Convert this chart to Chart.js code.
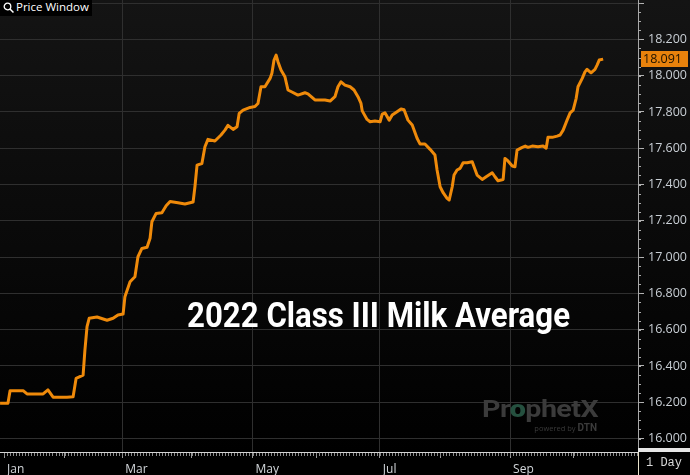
<!DOCTYPE html>
<html>
<head>
<meta charset="utf-8">
<script src="https://cdn.jsdelivr.net/npm/chart.js@4.4.1/dist/chart.umd.min.js"></script>
<style>
    html, body { margin: 0; padding: 0; background: #000; }
    #quadro { position: relative; width: 690px; height: 475px; overflow: hidden; }
    #grafico { display: block; }
    #janela {
        position: absolute; left: 0; top: 0; width: 92px; height: 16px;
        background: #000; color: #fff;
        font: 11.5px "Open Sans", sans-serif; line-height: 16px;
    }
    #janela svg { position: absolute; left: 3px; top: 2px; }
    #janela span { position: absolute; left: 16px; top: -1px; }
    #titulo {
        position: absolute; left: 187px; top: 298px;
        color: #fff; font: 700 35px Roboto, sans-serif; line-height: 35px;
        white-space: nowrap; transform-origin: left top;
    }
    #marca {
        position: absolute; left: 482px; top: 397px;
        color: #3b3b3b; font: 700 24px Roboto, sans-serif; line-height: 24px;
        white-space: nowrap; transform-origin: left top; letter-spacing: -0.5px;
    }
    #marca b { color: #25503f; }
    #powered {
        position: absolute; right: 93px; top: 422px;
        color: #3b3b3b; font: 7.5px "Open Sans", sans-serif; white-space: nowrap;
    }
    #powered b { font: 700 10px Roboto, sans-serif; }
    #periodo {
        position: absolute; left: 646px; top: 456px;
        color: #d8d8d8; font: 12px "Liberation Mono", monospace; white-space: nowrap;
    }
</style>
</head>
<body>
<div id="quadro">
    <canvas id="grafico" width="690" height="475"></canvas>
    <div id="janela">
        <svg width="12" height="12" viewBox="0 0 12 12">
            <circle cx="4.5" cy="4.5" r="3.3" fill="none" stroke="#fff" stroke-width="1.3"/>
            <line x1="7" y1="7" x2="10.5" y2="10.5" stroke="#fff" stroke-width="1.5"/>
        </svg>
        <span>Price Window</span>
    </div>
    <div id="titulo">2022 Class III Milk Average</div>
    <div id="marca">Pr<b>o</b>phetX</div>
    <div id="powered">powered by <b>DTN</b></div>
    <div id="periodo">1 Day</div>
</div>

<script>
// =============================
// DADOS
// =============================

// pregões contados a partir de 3 de janeiro de 2022
const dias = [
    -1.3, 1.3, 2.0, 6.3, 7.6, 12.9, 14.5, 16.2, 20.8, 22.8,
    23.8, 26.1, 26.7, 27.4, 28.1, 30.7, 34.0, 36.0, 37.6, 39.3,
    39.9, 41.6, 43.2, 44.2, 45.5, 47.2, 48.2, 48.8, 50.2, 52.1,
    53.5, 54.8, 57.4, 59.7, 62.4, 63.0, 63.7, 65.3, 66.3, 67.3,
    69.6, 71.6, 72.9, 73.9, 75.6, 76.9, 77.6, 78.9, 81.2, 82.8,
    83.8, 84.8, 86.1, 87.8, 88.4, 89.1, 89.8, 90.4, 91.4, 92.7,
    93.7, 95.0, 97.0, 99.3, 100.3, 102.6, 105.9, 107.6, 109.2, 110.2,
    111.2, 112.5, 114.2, 115.5, 116.8, 117.8, 118.2, 119.8, 120.8, 122.4,
    124.1, 124.8, 125.7, 127.1, 128.1, 129.7, 131.0, 132.0, 133.3, 134.7,
    136.3, 137.3, 138.9, 140.6, 142.2, 142.9, 143.9, 144.9, 146.2, 146.9,
    147.9, 148.5, 149.5, 150.5, 151.5, 152.8, 154.5, 155.1, 156.1, 157.8,
    159.1, 161.1, 162.0, 163.0, 164.7, 165.3, 166.3, 167.7, 168.6, 169.3,
    171.0, 172.0, 172.9, 174.3, 176.2, 177.9, 178.9, 179.5, 180.9, 182.5,
    183.5, 184.5, 185.8, 186.8, 187.8, 188.8, 189.4, 190.8, 191.7, 192.4,
    193.7, 195.0, 195.7, 196.4, 197.7
];

const precos = [
    16.195, 16.195, 16.264, 16.264, 16.246, 16.246, 16.268, 16.228, 16.228, 16.230,
    16.332, 16.350, 16.488, 16.617, 16.663, 16.670, 16.652, 16.663, 16.681, 16.686,
    16.782, 16.864, 16.892, 17.002, 17.048, 17.054, 17.104, 17.195, 17.241, 17.245,
    17.283, 17.307, 17.300, 17.293, 17.304, 17.388, 17.507, 17.516, 17.608, 17.649,
    17.640, 17.673, 17.700, 17.726, 17.704, 17.718, 17.792, 17.810, 17.825, 17.830,
    17.847, 17.939, 17.939, 17.985, 18.013, 18.086, 18.113, 18.077, 18.031, 17.994,
    17.921, 17.910, 17.893, 17.906, 17.900, 17.866, 17.866, 17.860, 17.884, 17.939,
    17.966, 17.948, 17.939, 17.921, 17.884, 17.847, 17.806, 17.759, 17.746, 17.750,
    17.746, 17.788, 17.795, 17.755, 17.783, 17.801, 17.816, 17.812, 17.755, 17.728,
    17.655, 17.623, 17.623, 17.594, 17.563, 17.480, 17.388, 17.355, 17.324, 17.315,
    17.388, 17.452, 17.480, 17.489, 17.520, 17.520, 17.526, 17.498, 17.452, 17.428,
    17.443, 17.465, 17.443, 17.421, 17.428, 17.544, 17.530, 17.502, 17.498, 17.590,
    17.605, 17.612, 17.605, 17.612, 17.608, 17.612, 17.600, 17.660, 17.660, 17.667,
    17.673, 17.700, 17.755, 17.795, 17.810, 17.875, 17.939, 17.985, 18.021, 18.035,
    18.016, 18.035, 18.058, 18.086, 18.091
];

// primeiro pregão de cada mês e o rótulo que aparece no eixo
const inicioMeses = [0, 20, 39, 62, 82, 103, 124, 144, 167, 188];
const rotulosMeses = ['Jan', '', 'Mar', '', 'May', '', 'Jul', '', 'Sep', ''];

const marcasPreco = [16.0, 16.2, 16.4, 16.6, 16.8, 17.0, 17.2, 17.4, 17.6, 17.8, 18.0, 18.2, 18.4];


// =============================
// PLUGINS AUXILIARES
// =============================

const fundo = {
    id: 'fundo',
    beforeDraw(chart) {
        const { ctx, width, height, chartArea } = chart;
        const grad = ctx.createLinearGradient(0, 0, 0, chartArea.bottom);
        grad.addColorStop(0, '#141414');
        grad.addColorStop(1, '#000000');
        ctx.save();
        ctx.fillStyle = grad;
        ctx.fillRect(0, 0, width, height);
        ctx.restore();
    }
};

const acabamento = {
    id: 'acabamento',
    afterDraw(chart) {
        const { ctx, chartArea, width, height } = chart;
        const x = chart.scales.x;
        const y = chart.scales.y;

        ctx.save();

        // marcas pequenas diárias no eixo do tempo
        ctx.strokeStyle = '#8a8a8a';
        ctx.lineWidth = 1;
        ctx.beginPath();
        for (let d = 0; d <= x.max; d++) {
            const px = Math.round(x.getPixelForValue(d)) + 0.5;
            ctx.moveTo(px, chartArea.bottom + 1);
            ctx.lineTo(px, chartArea.bottom + 4);
        }
        ctx.stroke();

        // marcas pequenas do eixo de preço
        ctx.strokeStyle = '#aaaaaa';
        ctx.beginPath();
        for (let v = 15.95; v <= y.max; v += 0.05) {
            const py = Math.round(y.getPixelForValue(v)) + 0.5;
            ctx.moveTo(chartArea.right, py);
            ctx.lineTo(chartArea.right + 3, py);
        }
        ctx.stroke();

        // faixa clara e divisória do canto inferior direito
        ctx.fillStyle = '#e6e6e6';
        ctx.fillRect(chartArea.right, chartArea.bottom - 4, width - chartArea.right, 4);
        ctx.fillStyle = '#e8e2cc';
        ctx.fillRect(chartArea.right, chartArea.bottom, 1, height - chartArea.bottom);

        // caixa com o último preço
        const ultimo = precos[precos.length - 1];
        const py = y.getPixelForValue(ultimo);
        ctx.fillStyle = '#e8820c';
        ctx.fillRect(chartArea.right + 3, Math.round(py) - 8, 47, 16);
        ctx.fillStyle = '#1c1200';
        ctx.font = '12.5px "Open Sans", sans-serif';
        ctx.textBaseline = 'middle';
        ctx.fillText(ultimo.toFixed(3), chartArea.right + 5, py + 0.5);

        ctx.restore();
    }
};


// =============================
// GRÁFICO
// =============================

function montarGrafico() {
    const ctx = document.getElementById('grafico');

    new Chart(ctx, {
        type: 'line',
        data: {
            datasets: [{
                label: 'Class III Milk Average',
                data: dias.map((d, i) => ({ x: d, y: precos[i] })),
                borderColor: '#ef8a0a',
                borderWidth: 3,
                borderJoinStyle: 'round',
                pointRadius: 0,
                tension: 0
            }]
        },
        options: {
            responsive: false,
            animation: false,
            layout: { padding: 0 },
            plugins: {
                legend: { display: false },
                tooltip: { enabled: false }
            },
            scales: {
                x: {
                    type: 'linear',
                    position: 'bottom',
                    min: -1.32,
                    max: 209.2,
                    afterBuildTicks: (escala) => {
                        escala.ticks = inicioMeses.map(v => ({ value: v }));
                    },
                    afterFit: (escala) => {
                        escala.height = 23;
                        escala.paddingLeft = 0;
                        escala.paddingRight = 0;
                    },
                    ticks: {
                        autoSkip: false,
                        maxRotation: 0,
                        align: 'start',
                        labelOffset: 3,
                        padding: 4,
                        color: '#d2d6da',
                        font: { family: '"Open Sans", sans-serif', size: 12 },
                        callback: (valor, indice) => rotulosMeses[indice]
                    },
                    grid: {
                        color: (c) => (c.index > 0 && rotulosMeses[c.index]) ? '#2f2f2f' : 'rgba(0,0,0,0)',
                        tickColor: '#9a9a9a',
                        tickLength: 6
                    },
                    border: { color: '#d4d4d4', width: 1 }
                },
                y: {
                    type: 'linear',
                    position: 'right',
                    min: 15.926,
                    max: 18.417,
                    afterBuildTicks: (escala) => {
                        escala.ticks = marcasPreco.map(v => ({ value: v }));
                    },
                    afterFit: (escala) => {
                        escala.width = 52;
                        escala.paddingTop = 0;
                        escala.paddingBottom = 0;
                    },
                    ticks: {
                        padding: 4,
                        color: '#c9cfd5',
                        font: { family: '"Open Sans", sans-serif', size: 12.5 },
                        callback: (valor) => valor > 18.3 ? '' : valor.toFixed(3)
                    },
                    grid: {
                        color: '#2f2f2f',
                        tickColor: '#b4b4b4',
                        tickLength: 6
                    },
                    border: { color: '#a8a8a8', width: 1 }
                }
            }
        },
        plugins: [fundo, acabamento]
    });
}

function ajustarLargura(id, largura) {
    const el = document.getElementById(id);
    el.style.display = 'inline-block';
    const atual = el.getBoundingClientRect().width;
    el.style.transform = `scaleX(${largura / atual})`;
}


// =============================
// INICIAR
// =============================

document.addEventListener('DOMContentLoaded', () => {
    montarGrafico();
    ajustarLargura('titulo', 383);
    ajustarLargura('marca', 116);
});
</script>
</body>
</html>
